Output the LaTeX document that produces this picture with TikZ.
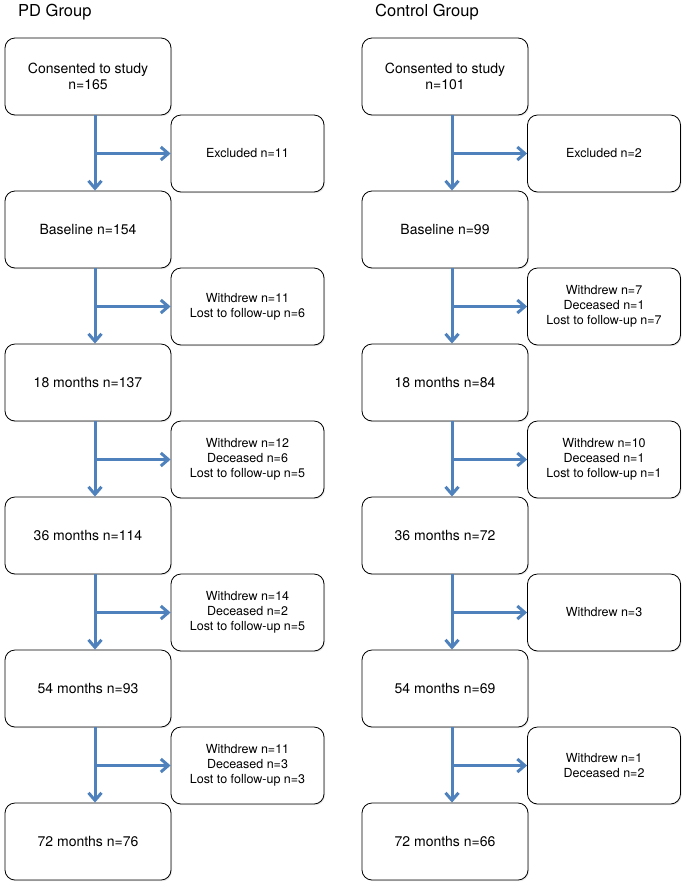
\documentclass[tikz,border=0pt]{standalone}
\usepackage{fontspec}
\setmainfont{TeX Gyre Heros}
\usetikzlibrary{arrows.meta,shadows}
\definecolor{flowblue}{RGB}{79,129,189}

\begin{document}
\begin{tikzpicture}[x=1pt,y=-1pt]
		\tikzstyle{box} = [draw=black, fill=white, line width=0.8pt, rounded corners=10pt, minimum width=166pt, minimum height=77pt, align=center, inner sep=2pt, font=\fontsize{14}{16}\selectfont, drop shadow={opacity=0.2, shadow xshift=1pt, shadow yshift=-1.2pt}]
		\tikzstyle{sidebox} = [box, minimum width=153pt, font=\fontsize{12.5}{15}\selectfont]
		\tikzstyle{flow} = [-{Straight Barb[length=7.5pt,width=13pt]}, line width=3pt, draw=flowblue]
		\tikzstyle{invisible} = [outer sep=0,inner sep=0,minimum size=0]
		\tikzstyle{title} = [anchor=base west, inner sep=0, font=\fontsize{16.5}{20}\selectfont]
		\useasboundingbox (0,0) rectangle (685,887);
		% PD group
		\node [title] (tp) at (18,16) {PD Group};
		\node [box] (p1) at (88,76.5) {Consented to study\\n=165};
		\node [sidebox] (pe1) at (247.5,153.5) {Excluded n=11};
		\node [box] (p2) at (88,229.5) {Baseline n=154};
		\node [sidebox] (pe2) at (247.5,306.5) {Withdrew n=11\\Lost to follow-up n=6};
		\node [box] (p3) at (88,382.5) {18 months n=137};
		\node [sidebox] (pe3) at (247.5,459.5) {Withdrew n=12\\Deceased n=6\\Lost to follow-up n=5};
		\node [box] (p4) at (88,535.5) {36 months n=114};
		\node [sidebox] (pe4) at (247.5,612.5) {Withdrew n=14\\Deceased n=2\\Lost to follow-up n=5};
		\node [box] (p5) at (88,688.5) {54 months n=93};
		\node [sidebox] (pe5) at (247.5,765.5) {Withdrew n=11\\Deceased n=3\\Lost to follow-up n=3};
		\node [box] (p6) at (88,841.5) {72 months n=76};
		\node [invisible] (pj1) at (95,153.5) {};
		\node [invisible] (pj2) at (95,306.5) {};
		\node [invisible] (pj3) at (95,459.5) {};
		\node [invisible] (pj4) at (95,612.5) {};
		\node [invisible] (pj5) at (95,765.5) {};
		\draw [flow] ([xshift=7pt]p1.south) -- ([xshift=7pt]p2.north);
		\draw [flow] ([xshift=7pt]p2.south) -- ([xshift=7pt]p3.north);
		\draw [flow] ([xshift=7pt]p3.south) -- ([xshift=7pt]p4.north);
		\draw [flow] ([xshift=7pt]p4.south) -- ([xshift=7pt]p5.north);
		\draw [flow] ([xshift=7pt]p5.south) -- ([xshift=7pt]p6.north);
		\draw [flow] (pj1) edge (pe1);
		\draw [flow] (pj2) edge (pe2);
		\draw [flow] (pj3) edge (pe3);
		\draw [flow] (pj4) edge (pe4);
		\draw [flow] (pj5) edge (pe5);
		% control group
		\node [title] (tc) at (375,16) {Control Group};
		\node [box] (c1) at (445,76.5) {Consented to study\\n=101};
		\node [sidebox] (ce1) at (604,153.5) {Excluded n=2};
		\node [box] (c2) at (445,229.5) {Baseline n=99};
		\node [sidebox] (ce2) at (604,306.5) {Withdrew n=7\\Deceased n=1\\Lost to follow-up n=7};
		\node [box] (c3) at (445,382.5) {18 months n=84};
		\node [sidebox] (ce3) at (604,459.5) {Withdrew n=10\\Deceased n=1\\Lost to follow-up n=1};
		\node [box] (c4) at (445,535.5) {36 months n=72};
		\node [sidebox] (ce4) at (604,612.5) {Withdrew n=3};
		\node [box] (c5) at (445,688.5) {54 months n=69};
		\node [sidebox] (ce5) at (604,765.5) {Withdrew n=1\\Deceased n=2};
		\node [box] (c6) at (445,841.5) {72 months n=66};
		\node [invisible] (cj1) at (452,153.5) {};
		\node [invisible] (cj2) at (452,306.5) {};
		\node [invisible] (cj3) at (452,459.5) {};
		\node [invisible] (cj4) at (452,612.5) {};
		\node [invisible] (cj5) at (452,765.5) {};
		\draw [flow] ([xshift=7pt]c1.south) -- ([xshift=7pt]c2.north);
		\draw [flow] ([xshift=7pt]c2.south) -- ([xshift=7pt]c3.north);
		\draw [flow] ([xshift=7pt]c3.south) -- ([xshift=7pt]c4.north);
		\draw [flow] ([xshift=7pt]c4.south) -- ([xshift=7pt]c5.north);
		\draw [flow] ([xshift=7pt]c5.south) -- ([xshift=7pt]c6.north);
		\draw [flow] (cj1) edge (ce1);
		\draw [flow] (cj2) edge (ce2);
		\draw [flow] (cj3) edge (ce3);
		\draw [flow] (cj4) edge (ce4);
		\draw [flow] (cj5) edge (ce5);
\end{tikzpicture}
\end{document}
